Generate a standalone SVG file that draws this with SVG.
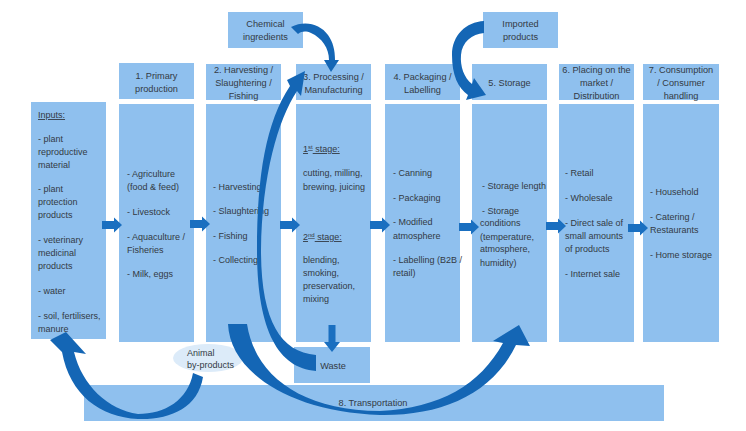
<svg xmlns="http://www.w3.org/2000/svg" width="746" height="431" viewBox="0 0 746 431">
<defs>
<style>
.box{fill:#8fc0ee}
.t{font-family:"Liberation Sans Narrow","Liberation Sans",Arial,sans-serif;font-size:9px;fill:#333a44}
.h{font-family:"Liberation Sans Narrow","Liberation Sans",Arial,sans-serif;font-size:9.2px;fill:#333a44;text-anchor:middle}
.arr{fill:#1a6fc0}
.carr{fill:#1466b5}
</style>
<path id="ra" d="M0,-4 H12 V-7.5 L20,0 L12,7.5 V4 H0 Z"/>
</defs>
<rect width="746" height="431" fill="#ffffff"/>

<g id="transportation">
<rect class="box" x="84" y="385" width="580" height="36"/>
<text class="h" x="373" y="406">8. Transportation</text>
</g>

<g id="chemical">
<rect class="box" x="228" y="12" width="75" height="36"/>
<text class="h" x="265.5" y="27">Chemical</text>
<text class="h" x="265.5" y="40">ingredients</text>
</g>
<g id="imported">
<rect class="box" x="483" y="12" width="75" height="36"/>
<text class="h" x="520.5" y="27">Imported</text>
<text class="h" x="520.5" y="40">products</text>
</g>

<g id="inputs">
<rect class="box" x="31" y="102" width="75" height="237"/>
<text class="t" x="38" y="118" text-decoration="underline">Inputs:</text>
<text class="t" x="38" y="142">- plant</text>
<text class="t" x="38" y="155">reproductive</text>
<text class="t" x="38" y="168">material</text>
<text class="t" x="38" y="192">- plant</text>
<text class="t" x="38" y="205">protection</text>
<text class="t" x="38" y="218">products</text>
<text class="t" x="38" y="243">- veterinary</text>
<text class="t" x="38" y="256">medicinal</text>
<text class="t" x="38" y="269">products</text>
<text class="t" x="38" y="294">- water</text>
<text class="t" x="38" y="319">- soil, fertilisers,</text>
<text class="t" x="38" y="332">manure</text>
</g>

<g id="primary">
<rect class="box" x="119" y="63" width="75" height="36"/>
<text class="h" x="156.5" y="79">1. Primary</text>
<text class="h" x="156.5" y="92">production</text>
<rect class="box" x="119" y="104" width="75" height="238"/>
<text class="t" x="127" y="177">- Agriculture</text>
<text class="t" x="127" y="190">(food &amp; feed)</text>
<text class="t" x="127" y="215">- Livestock</text>
<text class="t" x="127" y="240">- Aquaculture /</text>
<text class="t" x="127" y="253">Fisheries</text>
<text class="t" x="127" y="277">- Milk, eggs</text>
</g>

<g id="harvesting">
<rect class="box" x="206" y="64" width="75" height="36"/>
<text class="h" x="243.5" y="73">2. Harvesting /</text>
<text class="h" x="243.5" y="86">Slaughtering /</text>
<text class="h" x="243.5" y="99">Fishing</text>
<rect class="box" x="206" y="104" width="75" height="238"/>
<text class="t" x="213" y="190">- Harvesting</text>
<text class="t" x="213" y="214">- Slaughtering</text>
<text class="t" x="213" y="239">- Fishing</text>
<text class="t" x="213" y="263">- Collecting</text>
</g>

<g id="processing">
<rect class="box" x="296" y="64" width="75" height="36"/>
<text class="h" x="333.5" y="80">3. Processing /</text>
<text class="h" x="333.5" y="93">Manufacturing</text>
<rect class="box" x="296" y="104" width="75" height="238"/>
<text class="t" x="303" y="152" text-decoration="underline">1<tspan font-size="6" baseline-shift="super">st</tspan> stage:</text>
<text class="t" x="303" y="176">cutting, milling,</text>
<text class="t" x="303" y="190">brewing, juicing</text>
<text class="t" x="303" y="240" text-decoration="underline">2<tspan font-size="6" baseline-shift="super">nd</tspan> stage:</text>
<text class="t" x="303" y="263">blending,</text>
<text class="t" x="303" y="276">smoking,</text>
<text class="t" x="303" y="289">preservation,</text>
<text class="t" x="303" y="302">mixing</text>
</g>

<g id="waste">
<rect class="box" x="294" y="347" width="76" height="36"/>
<text class="h" x="333" y="369">Waste</text>
</g>

<g id="packaging">
<rect class="box" x="385" y="64" width="75" height="36"/>
<text class="h" x="422.5" y="80">4. Packaging /</text>
<text class="h" x="422.5" y="93">Labelling</text>
<rect class="box" x="385" y="104" width="75" height="238"/>
<text class="t" x="393" y="176">- Canning</text>
<text class="t" x="393" y="201">- Packaging</text>
<text class="t" x="393" y="225">- Modified</text>
<text class="t" x="393" y="239">atmosphere</text>
<text class="t" x="393" y="263">- Labelling (B2B /</text>
<text class="t" x="393" y="276">retail)</text>
</g>

<g id="storage">
<rect class="box" x="472" y="64" width="75" height="36"/>
<text class="h" x="509.5" y="86">5. Storage</text>
<rect class="box" x="472" y="104" width="75" height="238"/>
<text class="t" x="482" y="189">- Storage length</text>
<text class="t" x="482" y="214">- Storage</text>
<text class="t" x="480" y="226">conditions</text>
<text class="t" x="480" y="240">(temperature,</text>
<text class="t" x="480" y="252">atmosphere,</text>
<text class="t" x="480" y="266">humidity)</text>
</g>

<g id="distribution">
<rect class="box" x="559" y="64" width="75" height="36"/>
<text class="h" x="596.5" y="73">6. Placing on the</text>
<text class="h" x="596.5" y="86">market /</text>
<text class="h" x="596.5" y="99">Distribution</text>
<rect class="box" x="559" y="104" width="75" height="238"/>
<text class="t" x="565" y="176">- Retail</text>
<text class="t" x="565" y="201">- Wholesale</text>
<text class="t" x="565" y="226">- Direct sale of</text>
<text class="t" x="565" y="239">small amounts</text>
<text class="t" x="565" y="252">of products</text>
<text class="t" x="565" y="277">- Internet sale</text>
</g>

<g id="consumption">
<rect class="box" x="643" y="64" width="76" height="36"/>
<text class="h" x="681" y="73">7. Consumption</text>
<text class="h" x="681" y="86">/ Consumer</text>
<text class="h" x="681" y="99">handling</text>
<rect class="box" x="643" y="104" width="76" height="238"/>
<text class="t" x="650" y="195">- Household</text>
<text class="t" x="650" y="220">- Catering /</text>
<text class="t" x="650" y="233">Restaurants</text>
<text class="t" x="650" y="258">- Home storage</text>
</g>

<g id="animal-byproducts">
<ellipse cx="208" cy="358" rx="35" ry="14" fill="#dcebf9"/>
<text class="t" x="187" y="356">Animal</text>
<text class="t" x="187" y="368">by-products</text>
</g>

<g id="connectors">
<use href="#ra" class="arr" x="102" y="225"/>
<use href="#ra" class="arr" x="190" y="224"/>
<use href="#ra" class="arr" x="280" y="225"/>
<use href="#ra" class="arr" x="370" y="225"/>
<use href="#ra" class="arr" x="459" y="227"/>
<use href="#ra" class="arr" x="546" y="226"/>
<use href="#ra" class="arr" x="628" y="228"/>
<path class="arr" d="M328.5,325 H335.5 V342 H340 L332,352 L324,342 H328.5 Z"/>
<path class="carr" d="M291,27 C305,20 320,24 328,35 C333,42 335,50 335,60 L339,60 L331,72 L324,60 L329,60 C329,48 322,38 311,33 C306,31 302,31 298,34 Z"/>
<path class="carr" d="M484,21 C466,22 452,35 452,55 C452,75 458,88 468,95 L466,100 L486,95 L474,78 L472,84 C464,78 460,66 461,55 C462,42 472,34 484,33 Z"/>
<path class="carr" d="M316,371 C278,368 257,330 257,250 C257,175 266,122 290,86 L287,80 L305,71 L301,96 L297,91 C278,120 262,175 261,250 C261,320 280,352 316,355 Z"/>
<path class="carr" d="M228,324 C230,372 290,412 380,415 C440,416 492,395 516,345 L530,346 L519,325 L493,341 L503,343 C480,385 440,408 380,411 C300,410 255,375 247,324 Z"/>
<path class="carr" d="M193,373 L203,377 C198,408 170,420 138,419 C100,417 70,395 62,352 L50,340 L66,332 L86,354 L74,352 C82,385 108,410 138,414 C165,414 188,400 193,373 Z"/>
</g>
</svg>
